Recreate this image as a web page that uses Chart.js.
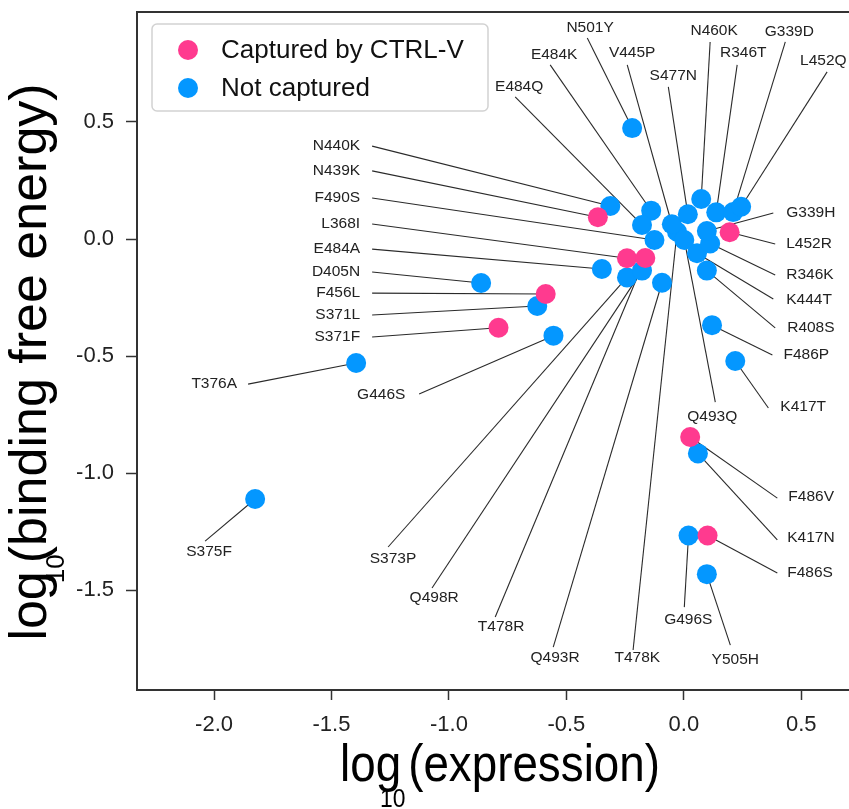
<!DOCTYPE html>
<html><head><meta charset="utf-8">
<script src="https://cdn.jsdelivr.net/npm/chart.js@4.4.1/dist/chart.umd.min.js"></script>
<style>
html,body{margin:0;padding:0;overflow:hidden;background:#fff;width:849px;height:809px;}
#wrap{position:absolute;left:0;top:0;width:861px;height:809px;}
</style></head><body>
<div id="wrap"><canvas id="c" width="861" height="809"></canvas></div>
<script>
// ---- data ----
const mutations = ['N440K','N439K','F490S','L368I','E484A','D405N','F456L','S371L','S371F','T376A',
  'G446S','S375F','S373P','Q498R','T478R','Q493R','T478K','G496S','Y505H','F486S',
  'K417N','F486V','K417T','F486P','R408S','K444T','R346K','L452R','G339H','Q493Q',
  'N501Y','E484K','V445P','S477N','N460K','R346T','G339D','L452Q','E484Q'];
const expression = [-0.313,-0.366,-0.125,-0.242,-0.349,-0.863,-0.588,-0.624,-0.789,-1.395,
  -0.555,-1.825,-0.242,-0.178,-0.164,-0.093,-0.029,0.020,0.098,0.101,
  0.060,0.027,0.219,0.120,0.098,0.056,0.112,0.195,0.098,0.002,
  -0.220,-0.139,-0.051,0.017,0.074,0.138,0.210,0.244,-0.178];
const bindingEnergy = [0.141,0.093,-0.004,-0.082,-0.128,-0.188,-0.235,-0.286,-0.379,-0.530,
  -0.413,-1.111,-0.164,-0.135,-0.081,-0.187,0.031,-1.267,-1.432,-1.267,
  -0.916,-0.846,-0.521,-0.368,-0.135,-0.061,-0.019,0.029,0.034,-0.004,
  0.474,0.121,0.063,0.106,0.171,0.114,0.115,0.138,0.060];
const capturedFlag = [0,1,0,1,0,0,1,0,1,0,
  0,0,0,0,1,0,0,0,0,1,
  0,1,0,0,0,0,0,1,0,0,
  0,0,0,0,0,0,0,0,0];
const seriesNames = ['Captured by CTRL-V','Not captured'];
const xTicks = [-2.0,-1.5,-1.0,-0.5,0.0,0.5];
const yTicks = [0.5,0.0,-0.5,-1.0,-1.5];
const xTitle = ['log','10','(expression)'];
const yTitle = ['log','10','(binding free energy)'];

// ---- label layout (data units): [textX, textY, align, lineStartX, lineStartY] ----
const labelLayout = {
  N440K:[-1.378,0.397,'right',-1.327,0.397], N439K:[-1.378,0.291,'right',-1.327,0.291],
  F490S:[-1.378,0.175,'right',-1.327,0.175], L368I:[-1.378,0.064,'right',-1.327,0.064],
  E484A:[-1.378,-0.043,'right',-1.327,-0.043], D405N:[-1.378,-0.141,'right',-1.327,-0.141],
  F456L:[-1.378,-0.231,'right',-1.327,-0.231], S371L:[-1.378,-0.325,'right',-1.327,-0.325],
  S371F:[-1.378,-0.419,'right',-1.327,-0.419],
  T376A:[-1.902,-0.620,'right',-1.855,-0.620], G446S:[-1.391,-0.667,'left',-1.127,-0.662],
  S375F:[-2.021,-1.338,'center',-2.038,-1.291], S373P:[-1.238,-1.368,'center',-1.259,-1.316],
  Q498R:[-1.063,-1.534,'center',-1.072,-1.491], T478R:[-0.778,-1.658,'center',-0.803,-1.615],
  Q493R:[-0.548,-1.791,'center',-0.556,-1.744], T478K:[-0.198,-1.791,'center',-0.216,-1.756],
  G496S:[0.019,-1.628,'center',0.002,-1.573], Y505H:[0.219,-1.799,'center',0.198,-1.735],
  F486S:[0.440,-1.427,'left',0.398,-1.427], K417N:[0.440,-1.278,'left',0.398,-1.286],
  F486V:[0.445,-1.103,'left',0.398,-1.107], K417T:[0.411,-0.718,'left',0.360,-0.722],
  F486P:[0.424,-0.496,'left',0.377,-0.496], R408S:[0.440,-0.380,'left',0.389,-0.380],
  K444T:[0.436,-0.261,'left',0.381,-0.256], R346K:[0.436,-0.154,'left',0.389,-0.154],
  L452R:[0.436,-0.021,'left',0.389,-0.021], G339H:[0.436,0.111,'left',0.381,0.111],
  Q493Q:[0.121,-0.761,'center',0.134,-0.697],
  N501Y:[-0.399,0.902,'center',-0.411,0.859], E484K:[-0.552,0.786,'center',-0.569,0.744],
  V445P:[-0.220,0.795,'center',-0.241,0.744], S477N:[-0.045,0.697,'center',-0.066,0.650],
  N460K:[0.129,0.889,'center',0.112,0.842], R346T:[0.253,0.795,'center',0.227,0.744],
  G339D:[0.449,0.885,'center',0.432,0.842], L452Q:[0.594,0.761,'center',0.610,0.714],
  E484Q:[-0.701,0.650,'center',-0.718,0.607]
};

const PINK = '#FF3A8F', BLUE = '#0497FF';
const FONT = '"Liberation Sans", Arial, Helvetica, sans-serif';

function buildSeries(flag){
  const out = [];
  for (let i = 0; i < mutations.length; i++) {
    if (capturedFlag[i] === flag) out.push({x: expression[i], y: bindingEnergy[i], name: mutations[i]});
  }
  return out;
}

const leaderPlugin = {
  id: 'leaders',
  beforeDatasetsDraw(chart){
    const {ctx, scales:{x, y}} = chart;
    ctx.save();
    ctx.strokeStyle = '#2a2a2a'; ctx.lineWidth = 1.1;
    for (let i = 0; i < mutations.length; i++) {
      const L = labelLayout[mutations[i]]; if (!L) continue;
      ctx.beginPath();
      ctx.moveTo(x.getPixelForValue(L[3]), y.getPixelForValue(L[4]));
      ctx.lineTo(x.getPixelForValue(expression[i]), y.getPixelForValue(bindingEnergy[i]));
      ctx.stroke();
    }
    ctx.restore();
  },
  afterDatasetsDraw(chart){
    const {ctx, scales:{x, y}} = chart;
    ctx.save();
    ctx.fillStyle = '#222'; ctx.font = '15.5px ' + FONT; ctx.textBaseline = 'middle';
    for (let i = 0; i < mutations.length; i++) {
      const L = labelLayout[mutations[i]]; if (!L) continue;
      ctx.textAlign = L[2];
      ctx.fillText(mutations[i], x.getPixelForValue(L[0]), y.getPixelForValue(L[1]));
    }
    ctx.restore();
  }
};

const framePlugin = {
  id: 'frame',
  afterDraw(chart){
    const {ctx, chartArea:a} = chart;
    ctx.save();
    ctx.strokeStyle = '#333'; ctx.lineWidth = 2;
    ctx.beginPath();
    ctx.moveTo(a.left, a.top); ctx.lineTo(a.right, a.top); ctx.lineTo(a.right, a.bottom);
    ctx.stroke();
    // legend
    const lx = a.left + 15, ly = a.top + 12, lw = 336, lh = 87;
    ctx.strokeStyle = '#d2d2d2'; ctx.lineWidth = 1.5;
    ctx.beginPath(); ctx.roundRect(lx, ly, lw, lh, 5); ctx.stroke();
    const ds = chart.data.datasets;
    ctx.font = '26px ' + FONT; ctx.textBaseline = 'middle'; ctx.textAlign = 'left';
    ds.forEach((d, k) => {
      const cy = ly + 26 + k * 38;
      ctx.fillStyle = d.backgroundColor;
      ctx.beginPath(); ctx.arc(lx + 36, cy, 10, 0, Math.PI * 2); ctx.fill();
      ctx.fillStyle = '#111';
      ctx.fillText(d.label, lx + 69, cy + 1);
    });
    // axis titles
    ctx.fillStyle = '#000';
    ctx.textBaseline = 'alphabetic'; ctx.textAlign = 'left';
    const gap = 8;
    // x title (slightly condensed)
    ctx.save();
    ctx.translate(500, 781); ctx.scale(0.88, 1);
    ctx.font = '52px ' + FONT;
    const w1 = ctx.measureText(xTitle[0]).width, w3 = ctx.measureText(xTitle[2]).width;
    let sx = -(w1 + gap + w3) / 2;
    ctx.fillText(xTitle[0], sx, 0);
    ctx.fillText(xTitle[2], sx + w1 + gap, 0);
    ctx.font = '26px ' + FONT;
    ctx.fillText(xTitle[1], sx + w1 - 24, 26);
    ctx.restore();
    // y title
    ctx.save();
    ctx.translate(46, 362); ctx.rotate(-Math.PI / 2);
    ctx.font = '52px ' + FONT;
    const v1 = ctx.measureText(yTitle[0]).width, v3 = ctx.measureText(yTitle[2]).width;
    let s2 = -(v1 + gap + v3) / 2;
    ctx.fillText(yTitle[0], s2, 0);
    ctx.fillText(yTitle[2], s2 + v1 + gap, 0);
    ctx.font = '26px ' + FONT;
    ctx.fillText(yTitle[1], s2 + v1 - 12, 18);
    ctx.restore();
    ctx.restore();
  }
};

function zeroPad(s){ s.paddingTop = 0; s.paddingBottom = 0; s.paddingLeft = 0; s.paddingRight = 0; }

new Chart(document.getElementById('c'), {
  type: 'scatter',
  data: { datasets: [
    { label: seriesNames[0], data: buildSeries(1), backgroundColor: PINK, borderWidth: 0, pointRadius: 10, pointHoverRadius: 10 },
    { label: seriesNames[1], data: buildSeries(0), backgroundColor: BLUE, borderWidth: 0, pointRadius: 10, pointHoverRadius: 10 }
  ]},
  options: {
    responsive: false, animation: false, devicePixelRatio: 1,
    layout: { autoPadding: false, padding: { top: 12, right: 1, left: 0, bottom: 0 } },
    plugins: { legend: { display: false }, tooltip: { enabled: false } },
    scales: {
      x: {
        type: 'linear', min: -2.328, max: 0.75,
        afterBuildTicks: s => { s.ticks = xTicks.map(v => ({ value: v })); },
        afterFit: s => { s.height = 119; zeroPad(s); },
        grid: { drawOnChartArea: false, drawTicks: true, tickLength: 10, tickWidth: 1.5, tickColor: '#333' },
        border: { display: true, color: '#333', width: 2 },
        ticks: { font: { family: FONT, size: 22 }, color: '#222', padding: 12, maxRotation: 0, autoSkip: false,
                 callback: v => Number(v).toFixed(1) }
      },
      y: {
        type: 'linear', min: -1.927, max: 0.970,
        afterBuildTicks: s => { s.ticks = yTicks.map(v => ({ value: v })); },
        afterFit: s => { s.width = 137; zeroPad(s); },
        grid: { drawOnChartArea: false, drawTicks: true, tickLength: 11, tickWidth: 1.5, tickColor: '#333' },
        border: { display: true, color: '#333', width: 2 },
        ticks: { font: { family: FONT, size: 22 }, color: '#222', padding: 12, autoSkip: false,
                 callback: v => Number(v).toFixed(1) }
      }
    }
  },
  plugins: [leaderPlugin, framePlugin]
});
</script>
</body></html>
